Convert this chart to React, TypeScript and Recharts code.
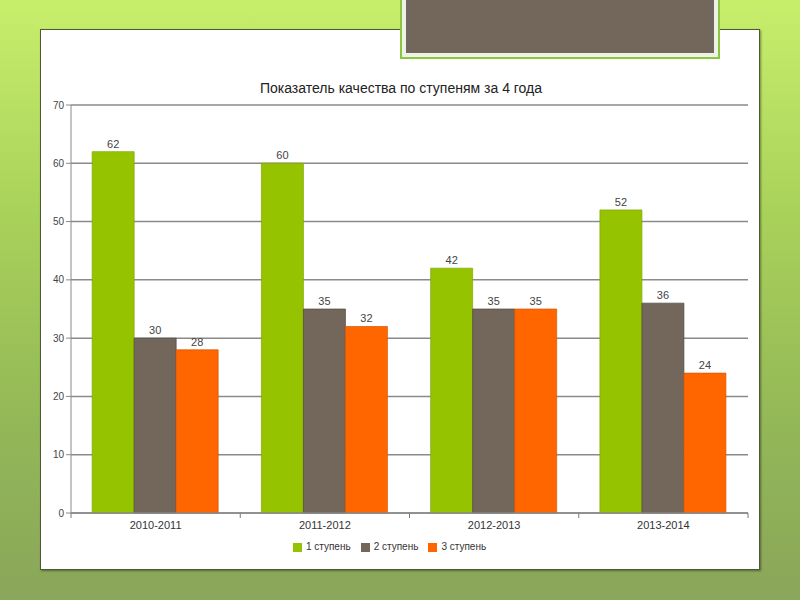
import { BarChart, Bar, XAxis, YAxis, CartesianGrid, Legend, LabelList } from 'recharts';

const YEARS = ['2010-2011', '2011-2012', '2012-2013', '2013-2014'];
const STAGE1 = [62, 60, 42, 52];
const STAGE2 = [30, 35, 35, 36];
const STAGE3 = [28, 32, 35, 24];
const SERIES_NAMES = ['1 ступень', '2 ступень', '3 ступень'];
const Y_TICKS = [0, 10, 20, 30, 40, 50, 60, 70];
const COLORS = ['#95c300', '#72675a', '#ff6600'];

const data = YEARS.map((year, i) => ({
  year,
  s1: STAGE1[i],
  s2: STAGE2[i],
  s3: STAGE3[i],
}));

const FONT = '"Liberation Sans", Arial, sans-serif';

function YearTick(props: any) {
  const { x, y, payload, index } = props;
  const half = payload && payload.offset ? payload.offset : 84.5;
  return (
    <g>
      <line x1={x - half} y1={y - 5} x2={x - half} y2={y} stroke="#7a7a7a" />
      {index === YEARS.length - 1 && (
        <line x1={x + half} y1={y - 5} x2={x + half} y2={y} stroke="#7a7a7a" />
      )}
      <text x={x} y={y + 3} dy="0.71em" textAnchor="middle" fill="#333" fontSize={11} fontFamily={FONT}>
        {payload.value}
      </text>
    </g>
  );
}

export default function App() {
  return (
    <div
      style={{
        position: 'fixed',
        left: 0,
        top: 0,
        width: 800,
        height: 600,
        overflow: 'hidden',
        background: 'linear-gradient(180deg, #c8ee6c 0%, #a9d25a 35%, #93b857 70%, #8aa65a 100%)',
      }}
    >
      <div
        style={{
          position: 'absolute',
          left: 40,
          top: 29,
          width: 718,
          height: 539,
          background: '#fff',
          border: '1px solid #4d5a36',
          boxShadow: '1px 1px 2px rgba(0,0,0,0.4)',
        }}
      >
        <div
          style={{
            position: 'absolute',
            top: 50,
            left: 0,
            width: 720,
            textAlign: 'center',
            fontFamily: FONT,
            fontSize: 14,
            color: '#222',
          }}
        >
          Показатель качества по ступеням за 4 года
        </div>
        <BarChart
          width={720}
          height={540}
          data={data}
          margin={{ top: 75, right: 13, left: 0, bottom: 35 }}
          barCategoryGap="12.5%"
          barGap={0}
        >
          <CartesianGrid vertical={false} stroke="#8a8a8a" strokeWidth={1.5} />
          <XAxis
            dataKey="year"
            height={22}
            tickLine={false}
            tickSize={5}
            tickMargin={0}
            axisLine={{ stroke: '#8a8a8a', strokeWidth: 1.5 }}
            tick={<YearTick />}
            interval={0}
          />
          <YAxis
            domain={[0, 70]}
            ticks={Y_TICKS}
            width={30}
            tickSize={5}
            tickMargin={2}
            axisLine={{ stroke: '#8a8a8a' }}
            tickLine={{ stroke: '#8a8a8a' }}
            tick={{ fontSize: 10, fill: '#444', fontFamily: FONT }}
          />
          <Legend
            layout="horizontal"
            verticalAlign="middle"
            align="center"
            iconType="square"
            iconSize={9}
            wrapperStyle={{ top: 511, fontFamily: FONT, fontSize: 10 }}
            formatter={(value) => <span style={{ color: '#333' }}>{value}</span>}
          />
          <Bar dataKey="s1" name={SERIES_NAMES[0]} fill={COLORS[0]} stroke="#7fa600" strokeWidth={0.7} isAnimationActive={false}>
            <LabelList dataKey="s1" position="top" offset={4} fill="#444" fontSize={11} fontFamily={FONT} />
          </Bar>
          <Bar dataKey="s2" name={SERIES_NAMES[1]} fill={COLORS[1]} stroke="#4d463d" strokeWidth={0.7} isAnimationActive={false}>
            <LabelList dataKey="s2" position="top" offset={4} fill="#444" fontSize={11} fontFamily={FONT} />
          </Bar>
          <Bar dataKey="s3" name={SERIES_NAMES[2]} fill={COLORS[2]} stroke="#d65500" strokeWidth={0.7} isAnimationActive={false}>
            <LabelList dataKey="s3" position="top" offset={4} fill="#444" fontSize={11} fontFamily={FONT} />
          </Bar>
        </BarChart>
      </div>
      <div
        style={{
          position: 'absolute',
          left: 402,
          top: -4,
          width: 308,
          height: 53,
          background: '#72675a',
          border: '4px solid #eef2e6',
          outline: '2px solid #8cc63f',
        }}
      />
    </div>
  );
}
